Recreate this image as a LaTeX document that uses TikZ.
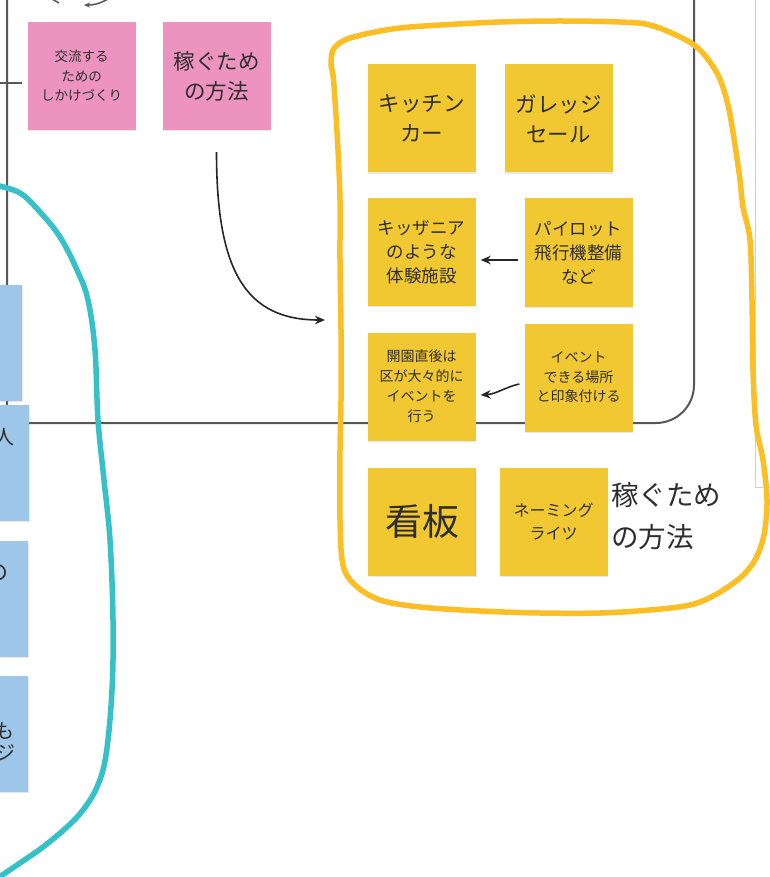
\documentclass[tikz,border=0pt]{standalone}
\usepackage{fontspec}
\setmainfont{Noto Sans CJK JP}
\usepackage{tikz}
\usetikzlibrary{arrows.meta,shadows}

\definecolor{inkgray}{HTML}{2E2E2E}
\definecolor{framegray}{HTML}{575757}
\definecolor{notepink}{HTML}{EC93BF}
\definecolor{noteyellow}{HTML}{F2C832}
\definecolor{noteblue}{HTML}{9DC6E9}
\definecolor{markteal}{HTML}{36C0C8}
\definecolor{markyellow}{HTML}{FBBE25}

\tikzset{
  sticky/.style={minimum width=108pt, minimum height=108pt, inner sep=2pt,
    align=center, text=inkgray,
    drop shadow={shadow xshift=0.8pt, shadow yshift=-1.2pt, opacity=0.18}},
  pinknote/.style={sticky, fill=notepink},
  yellownote/.style={sticky, fill=noteyellow},
  bluenote/.style={sticky, fill=noteblue, minimum height=116pt},
  frameline/.style={draw=framegray, line width=2pt},
  arr/.style={-{Stealth[length=10pt,width=8.5pt]}, line width=1.6pt, draw=black!85},
  marker/.style={line width=5.5pt, line cap=round, line join=round},
  fs/.style n args={2}{font=\fontsize{#1}{#2}\selectfont}
}

\begin{document}
\begin{tikzpicture}[x=1pt, y={(0pt,-1pt)}]
    \useasboundingbox (0,0) rectangle (770,877);
    \fill[white] (0,0) rectangle (770,877);
    \clip (0,0) rectangle (770,877);

    %% Frames
    \draw[frameline] (7,-10) [rounded corners=20pt] -- (7,423) -- (400,423)
      [rounded corners=38pt] -- (694,423) -- (694,-10);
    \draw[draw=black!18, line width=1pt] (755,-5) -- (755,487) -- (775,487);
    \draw[frameline] (0,83) -- (22,83);
    \draw[framegray, line width=1.5pt] (52,-1) -- (59,3);
    \draw[framegray, line width=1.5pt, -{Stealth[length=6pt,width=5pt]}] (108,-1) to[bend left=15] (84,5);

    %% Pink notes
    \node[pinknote, fs={13.5}{19.5}] (meetup) at (81.5,76) {交流する\\ための\\しかけづくり};
    \node[pinknote, fs={21.5}{30}] (earnA) at (216.5,76) {稼ぐため\\の方法};

    %% Blue notes (cut off at the left)
    \node[bluenote] (blueA) at (-32,342.5) {};
    \node[bluenote] (blueB) at (-25,462.5) {};
    \node[bluenote] (blueC) at (-26,598.5) {};
    \node[bluenote] (blueD) at (-26,733.5) {};
    \node[anchor=east, inner sep=0pt, text=inkgray, fs={20}{24}] (blueBtxt) at (15,437) {人};
    \node[anchor=east, inner sep=0pt, text=inkgray, fs={22}{24}] (blueCtxt) at (9,573) {の};
    \node[anchor=east, inner sep=0pt, text=inkgray, fs={20}{24}] (blueDtxtA) at (15,731) {も};
    \node[anchor=east, inner sep=0pt, text=inkgray, fs={20}{24}] (blueDtxtB) at (16,753) {ジ};

    %% Yellow notes
    \node[yellownote, fs={21.5}{30}] (kitchen) at (421.5,118.5) {キッチン\\カー};
    \node[yellownote, fs={21.5}{30}] (garage) at (558.5,118.5) {ガレッジ\\セール};
    \node[yellownote, fs={17.5}{24}] (kidzania) at (421.5,252) {キッザニア\\のような\\体験施設};
    \node[yellownote, fs={17.5}{24}] (pilot) at (578.5,252.5) {パイロット\\飛行機整備\\など};
    \node[yellownote, fs={14}{20}] (opening) at (421.5,386.5) {開園直後は\\区が大々的に\\イベントを\\行う};
    \node[yellownote, fs={14}{19.5}] (eventspot) at (578.5,377.5) {イベント\\できる場所\\と印象付ける};
    \node[yellownote, fs={37}{44}] (kanban) at (422,521.5) {看板};
    \node[yellownote, fs={16}{23}] (naming) at (553.5,522) {ネーミング\\ライツ};
    \node[anchor=west, align=left, text=inkgray, inner sep=0pt, fs={27.5}{42}] (earnB) at (611,516) {稼ぐため\\の方法};

    %% Connectors
    \coordinate (groupIn) at (325,320);
    \draw[arr] ([yshift=-22pt]earnA.south) .. controls +(0,118) and (245,320) .. (groupIn);
    \draw[arr] ([xshift=-6pt,yshift=-7.5pt]pilot.west) -- ([xshift=5pt,yshift=-8pt]kidzania.east);
    \draw[arr] ([xshift=-5pt,yshift=-6.5pt]eventspot.west) .. controls +(-14,3) and +(16,-1) .. ([xshift=5pt,yshift=-8.5pt]opening.east);

    %% Hand drawn marks
    \draw[marker, markteal] plot[smooth, tension=0.6] coordinates {
      (-5,185) (20,193) (40,212) (60,237) (77,270) (88,300) (95,350) (98,420)
      (104,480) (110,540) (113,620) (112,690) (106,755) (97,787) (83,810)
      (67,827) (43,847) (20,863) (-5,880)};
    \draw[marker, markyellow] plot[smooth, tension=0.55] coordinates {
      (331,66) (333,50) (345,40) (370,33) (400,28) (440,25) (500,22) (560,21)
      (620,22) (650,25) (680,37) (700,50) (718,75) (728,105) (735,145) (740,180)
      (743,207) (750,240) (752,300) (753,370) (756,425) (763,460) (767,500)
      (764,535) (755,560) (740,578) (715,595) (690,605) (650,610) (600,613)
      (540,613) (480,611) (420,607) (380,600) (355,585) (343,565) (340,520)
      (340,450) (341,400) (341,330) (340,260) (340,200) (338,150) (335,100)
      (333,75) (331,66)};
\end{tikzpicture}
\end{document}
